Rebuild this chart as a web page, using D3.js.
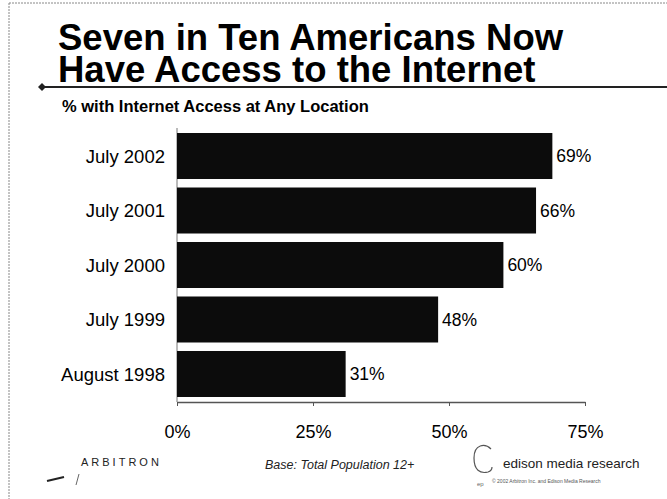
<!DOCTYPE html>
<html>
<head>
<meta charset="utf-8">
<script src="https://cdn.jsdelivr.net/npm/d3@7"></script>
<style>
  html, body { margin: 0; padding: 0; background: #fff; }
  svg { display: block; }
  text { font-family: Arial, "Liberation Sans", Helvetica, sans-serif; }
</style>
</head>
<body>
<svg id="chart" width="667" height="499"></svg>
<script>
const categories = ["July 2002", "July 2001", "July 2000", "July 1999", "August 1998"];
const values = [69, 66, 60, 48, 31];
const tickValues = [0, 25, 50, 75];
const tickLabels = ["0%", "25%", "50%", "75%"];
const titleLines = ["Seven in Ten Americans Now", "Have Access to the Internet"];
const subtitle = "% with Internet Access at Any Location";

const svg = d3.select("#chart");
const W = 667, H = 499;

svg.append("rect").attr("width", W).attr("height", H).attr("fill", "#fff");

// frame (thin dotted border)
svg.append("line").attr("x1", 9).attr("x2", W).attr("y1", 3).attr("y2", 3)
  .attr("stroke", "#888").attr("stroke-width", 1).attr("stroke-dasharray", "2,1");
svg.append("line").attr("x1", 9).attr("x2", 9).attr("y1", 3).attr("y2", H)
  .attr("stroke", "#888").attr("stroke-width", 1).attr("stroke-dasharray", "2,1");

// title (one text, two lines)
const title = svg.append("text")
  .attr("x", 58).attr("y", 50)
  .attr("font-size", 36.5).attr("font-weight", "bold").attr("fill", "#000");
title.selectAll("tspan").data(titleLines).join("tspan")
  .attr("x", 58).attr("y", (d, i) => 50 + i * 32)
  .text(d => d);

// rule under title
svg.append("line").attr("x1", 42).attr("x2", W).attr("y1", 87).attr("y2", 87)
  .attr("stroke", "#222").attr("stroke-width", 2);
svg.append("path").attr("d", "M38,87 L42,83 L46,87 L42,91 Z").attr("fill", "#222");

// subtitle
svg.append("text").attr("x", 62).attr("y", 112)
  .attr("font-size", 16.5).attr("font-weight", "bold").attr("fill", "#000")
  .text(subtitle);

// scales
const x = d3.scaleLinear().domain([0, 75]).range([177, 585]);
const y = d3.scaleBand().domain(categories).range([128, 402])
  .paddingInner(0.156).paddingOuter(0.092);

// y axis line
svg.append("line").attr("x1", x(0)).attr("x2", x(0)).attr("y1", 128).attr("y2", 402)
  .attr("stroke", "#777").attr("stroke-width", 1);

// bars
svg.append("g").selectAll("rect").data(values).join("rect")
  .attr("x", x(0))
  .attr("y", (d, i) => y(categories[i]))
  .attr("width", d => x(d) - x(0))
  .attr("height", y.bandwidth())
  .attr("fill", "#0c0c0c");

// category labels
svg.append("g").selectAll("text").data(categories).join("text")
  .attr("x", 165).attr("y", d => y(d) + y.bandwidth() / 2)
  .attr("dy", "0.36em").attr("text-anchor", "end")
  .attr("font-size", 18.5).attr("fill", "#000")
  .text(d => d);

// value labels
svg.append("g").selectAll("text").data(values).join("text")
  .attr("x", d => x(d) + 4)
  .attr("y", (d, i) => y(categories[i]) + y.bandwidth() / 2)
  .attr("dy", "0.36em")
  .attr("font-size", 17.5).attr("fill", "#000")
  .text(d => d + "%");

// x axis
const xAxis = d3.axisBottom(x).tickValues(tickValues).tickSize(4)
  .tickFormat((d, i) => tickLabels[i]).tickSizeOuter(0);
const gx = svg.append("g").attr("transform", "translate(0,402)").call(xAxis);
gx.select(".domain").attr("stroke", "#555").attr("stroke-width", 1.5);
gx.selectAll(".tick line").attr("stroke", "#555");
gx.selectAll(".tick text").attr("y", 36).attr("dy", 0)
  .attr("font-size", 18).attr("fill", "#000")
  .attr("font-family", "Arial, 'Liberation Sans', sans-serif");

// footer: Arbitron
svg.append("text").attr("x", 81).attr("y", 466)
  .attr("font-size", 11).attr("letter-spacing", 3).attr("fill", "#222")
  .text("ARBITRON");
svg.append("path").attr("d", "M47,481 L64,477").attr("stroke", "#222").attr("stroke-width", 2);
svg.append("path").attr("d", "M79,474 L76,485").attr("stroke", "#666").attr("stroke-width", 1);

// footer: base
svg.append("text").attr("x", 265).attr("y", 469)
  .attr("font-size", 12.5).attr("font-style", "italic").attr("fill", "#222")
  .text("Base: Total Population 12+");

// footer: edison logo
svg.append("path").attr("d", "M491,449 C485,443 474,444 474,458 C474,470 480,474 488,472 C491,471 492,469 492,467")
  .attr("fill", "none").attr("stroke", "#555").attr("stroke-width", 1.2);
svg.append("text").attr("x", 477).attr("y", 486).attr("font-size", 6).attr("fill", "#666").text("ep");
svg.append("text").attr("x", 503).attr("y", 468)
  .attr("font-family", "'Liberation Serif', 'DejaVu Serif', serif")
  .attr("font-size", 13.5).attr("letter-spacing", 0).attr("fill", "#222")
  .text("edison media research");
svg.append("text").attr("x", 492).attr("y", 483)
  .attr("font-size", 5).attr("fill", "#555")
  .text("© 2002 Arbitron Inc. and Edison Media Research");
</script>
</body>
</html>
